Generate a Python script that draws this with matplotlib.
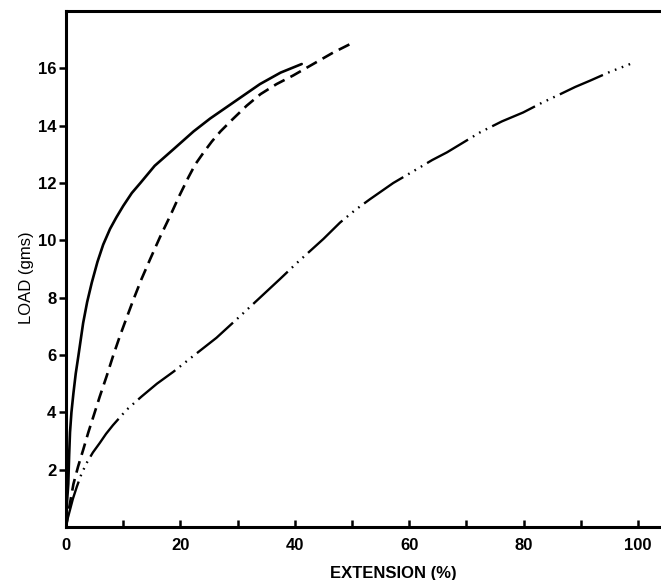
import matplotlib
matplotlib.use("Agg")
import matplotlib.pyplot as plt
import numpy as np

# Data
solid_x = [0, 0.15, 0.4, 0.55, 0.7, 0.95, 1.3, 1.7, 2.15, 3.0, 3.7, 4.5, 5.5, 6.5, 7.7, 8.8, 10.0,
           11.5, 13.0, 15.5, 18.8, 22.3, 25.2, 28.1, 31.0, 33.9, 37.5, 41.2]
solid_y = [0, 0.8, 1.5, 2.5, 3.3, 4.0, 4.67, 5.35, 5.95, 7.12, 7.85, 8.52, 9.25, 9.85, 10.4, 10.8, 11.2,
           11.65, 12.0, 12.6, 13.18, 13.8, 14.25, 14.65, 15.05, 15.45, 15.85, 16.15]

dashed_x = [0, 0.4, 1.3, 2.1, 3.0, 3.9, 4.8, 5.9, 7.1, 8.2, 9.4, 10.6, 11.8, 13.2, 14.7, 16.4,
            18.2, 19.8, 21.4, 22.6, 24.0, 25.5, 27.0, 29.0, 31.6, 34.0, 36.8, 39.7, 43.2, 46.7, 50.2]
dashed_y = [0, 0.5, 1.5, 2.1, 2.69, 3.3, 3.86, 4.55, 5.26, 5.95, 6.65, 7.3, 7.94, 8.65, 9.34, 10.1,
            10.85, 11.55, 12.2, 12.65, 13.05, 13.45, 13.8, 14.2, 14.7, 15.1, 15.45, 15.75, 16.15, 16.55, 16.9]

dd_x = [0, 0.3, 0.7, 1.2, 1.9, 2.7, 3.6, 4.7, 5.9, 7.0, 8.2, 9.4, 10.6, 13.2, 15.9, 18.8, 21.7,
        26.3, 30.4, 33.9, 37.4, 40.3, 45.0, 47.9, 50.5, 53.1, 57.2, 61.3, 64.0, 66.6, 69.5,
        72.4, 76.2, 79.9, 83.2, 86.4, 89.0, 91.6, 95.0, 98.6]
dd_y = [0, 0.3, 0.6, 0.98, 1.41, 1.85, 2.23, 2.6, 2.93, 3.25, 3.55, 3.82, 4.09, 4.55, 5.0, 5.42, 5.88,
        6.6, 7.35, 8.0, 8.65, 9.2, 10.05, 10.62, 11.05, 11.43, 12.0, 12.48, 12.8, 13.07, 13.42,
        13.77, 14.15, 14.46, 14.8, 15.1, 15.35, 15.57, 15.87, 16.15]

xticks = [0, 20, 40, 60, 80, 100]
yticks = [2, 4, 6, 8, 10, 12, 14, 16]

plt.rcParams['font.family'] = ['Liberation Sans', 'DejaVu Sans']

fig = plt.figure(figsize=(6.61, 5.80), dpi=100)
ax = fig.add_axes([66/661, 53/580, (661-66)/661, (527-11)/580])

ax.plot(solid_x, solid_y, color='black', lw=1.9, solid_joinstyle='round', solid_capstyle='round')
ax.plot(dashed_x, dashed_y, color='black', lw=1.9, dashes=(4.5, 2.5), dash_joinstyle='round')
ax.plot(dd_x, dd_y, color='black', lw=1.7, dashes=(20, 2.4, 0.7, 2.4, 0.7, 2.4, 0.7, 2.4),
        dash_joinstyle='round')

ax.set_xlim(0, 104)
ax.set_ylim(0, 18)

ax.set_xticks(xticks)
ax.set_xticks(np.arange(0, 101, 10), minor=True)
ax.set_yticks(yticks)
ax.set_xticklabels([str(v) for v in xticks], fontsize=12, fontweight='bold')
ax.set_yticklabels([str(v) for v in yticks], fontsize=12, fontweight='bold')
ax.tick_params(axis='x', which='both', direction='in', length=5, width=1.8, pad=8)
ax.tick_params(axis='y', direction='out', length=5, width=1.8, pad=2)

for s in ['left', 'bottom', 'top']:
    ax.spines[s].set_linewidth(2.2)
ax.spines['right'].set_visible(False)

ax.text(0.55, -0.075, 'EXTENSION (%)', transform=ax.transAxes, ha='center', va='top',
        fontsize=12, fontweight='bold')
fig.text(27/661, 1 - 278/580, 'LOAD (gms)', rotation=90, ha='center', va='center', fontsize=12)

fig.savefig('out.png', dpi=100)
